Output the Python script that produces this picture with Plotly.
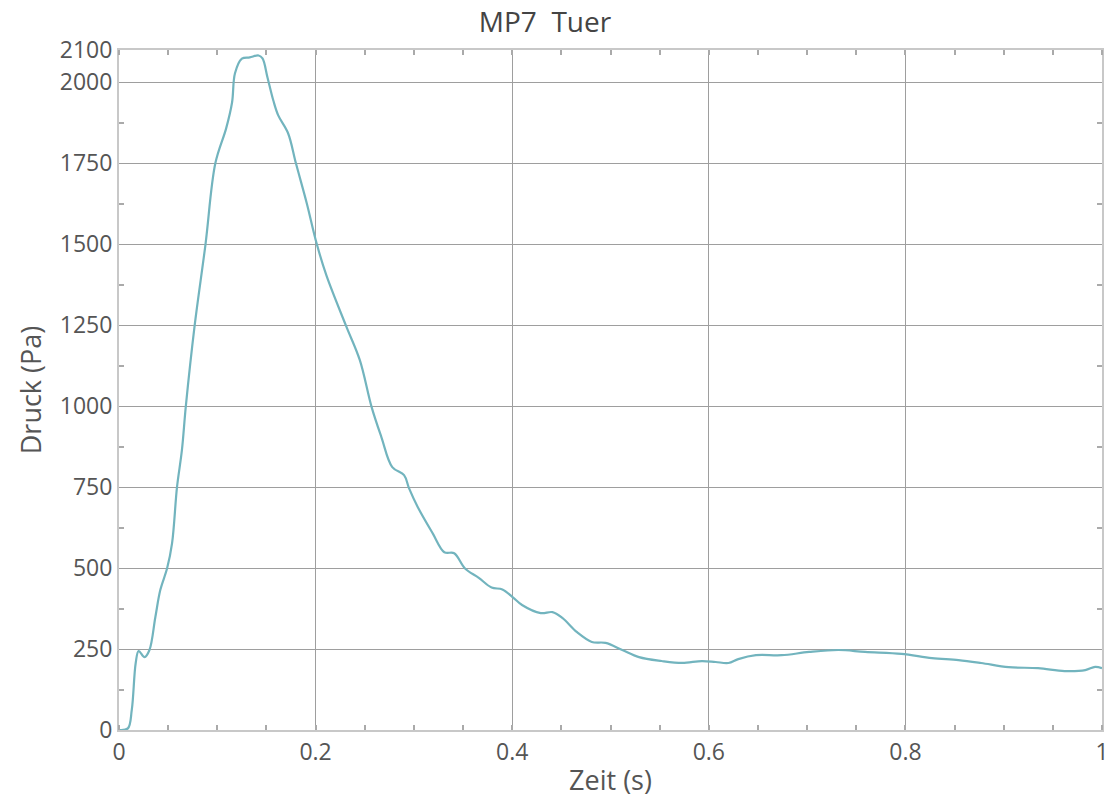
import plotly.graph_objects as go

# Time (s) and pressure (Pa)
zeit = [0.0, 0.009, 0.013, 0.017, 0.020, 0.026, 0.031, 0.037, 0.042, 0.049, 0.054,
        0.059, 0.064, 0.068, 0.077, 0.088, 0.098, 0.109, 0.115, 0.118, 0.125,
        0.133, 0.142, 0.146, 0.151, 0.157, 0.162, 0.172, 0.180, 0.191, 0.201,
        0.211, 0.231, 0.245, 0.257, 0.267, 0.278, 0.290, 0.295, 0.304, 0.319,
        0.331, 0.341, 0.352, 0.366, 0.379, 0.390, 0.401, 0.410, 0.429, 0.441,
        0.451, 0.466, 0.481, 0.495, 0.512, 0.529, 0.552, 0.573, 0.593, 0.607,
        0.620, 0.630, 0.648, 0.674, 0.702, 0.732, 0.759, 0.796, 0.827, 0.854,
        0.877, 0.905, 0.935, 0.962, 0.983, 0.993, 1.0]
druck = [0, 5, 62, 207, 244, 225, 247, 349, 432, 500, 577,
         750, 864, 1000, 1250, 1500, 1750, 1858, 1938, 2028, 2073,
         2077, 2083, 2074, 2016, 1944, 1898, 1843, 1750, 1627, 1503,
         1404, 1248, 1142, 997, 904, 812, 787, 747, 688, 608,
         549, 546, 499, 470, 440, 434, 409, 386, 361, 364,
         346, 302, 272, 269, 247, 225, 213, 207, 213, 210,
         207, 219, 231, 231, 241, 247, 241, 235, 222, 216,
         207, 194, 191, 182, 185, 195, 191]

x_ticks = [0, 0.2, 0.4, 0.6, 0.8, 1.0]
x_labels = ["0", "0.2", "0.4", "0.6", "0.8", "1"]
y_ticks = [0, 250, 500, 750, 1000, 1250, 1500, 1750, 2000, 2100]
y_labels = [str(v) for v in y_ticks]
y_minor = [125, 375, 625, 875, 1125, 1375, 1625, 1875]

font_family = "Open Sans, DejaVu Sans, sans-serif"

fig = go.Figure()
# invisible copy on the mirrored axes so their minor ticks are drawn
fig.add_trace(go.Scatter(
    x=zeit, y=druck, mode="lines", xaxis="x2", yaxis="y2",
    line=dict(color="rgba(0,0,0,0)", width=0), hoverinfo="skip", showlegend=False,
))
fig.add_trace(go.Scatter(
    x=zeit, y=druck, mode="lines",
    line=dict(color="#72b4be", width=2.2, shape="spline", smoothing=1.0),
    showlegend=False, cliponaxis=False,
))

axis_common = dict(
    showline=True, linecolor="#c8c8c8", linewidth=2, mirror=True,
    gridcolor="#9e9e9e", gridwidth=1.2, zeroline=False, automargin=False,
    ticks="", tickfont=dict(size=23, color="#555555", family=font_family),
)
x_minor = dict(dtick=0.05, tick0=0, ticks="inside", ticklen=5,
               tickcolor="#aaaaaa", tickwidth=1.5, showgrid=False)
y_minor_cfg = dict(tickmode="array", tickvals=y_minor, ticks="inside", ticklen=5,
                   tickcolor="#aaaaaa", tickwidth=1.5, showgrid=False)

fig.update_layout(
    width=1110, height=805,
    margin=dict(l=119, r=8, t=50, b=75),
    paper_bgcolor="white", plot_bgcolor="white",
    title=dict(text="MP7  Tuer", x=0.491, xanchor="center", y=0.972, yanchor="middle",
               font=dict(size=28, color="#444444", family=font_family)),
    xaxis=dict(
        range=[0, 1], tickvals=x_ticks, ticktext=x_labels,
        title=dict(text="Zeit (s)", standoff=6,
                   font=dict(size=27, color="#555555", family=font_family)),
        minor=x_minor,
        **axis_common,
    ),
    yaxis=dict(
        range=[0, 2100], tickvals=y_ticks, ticktext=y_labels,
        title=dict(text="Druck (Pa)", standoff=10,
                   font=dict(size=27, color="#555555", family=font_family)),
        minor=y_minor_cfg,
        **axis_common,
    ),
    # mirrored axes carrying the minor ticks on top and right
    xaxis2=dict(
        overlaying="x", side="top", range=[0, 1], tickvals=x_ticks,
        showticklabels=False, showgrid=False, zeroline=False, showline=False,
        ticks="", minor=x_minor, automargin=False,
    ),
    yaxis2=dict(
        overlaying="y", side="right", range=[0, 2100], tickvals=y_ticks,
        showticklabels=False, showgrid=False, zeroline=False, showline=False,
        ticks="", minor=y_minor_cfg, automargin=False,
    ),
)

fig.write_html("out.html", config={"displayModeBar": False},
               post_script="document.body.style.margin='0';")
